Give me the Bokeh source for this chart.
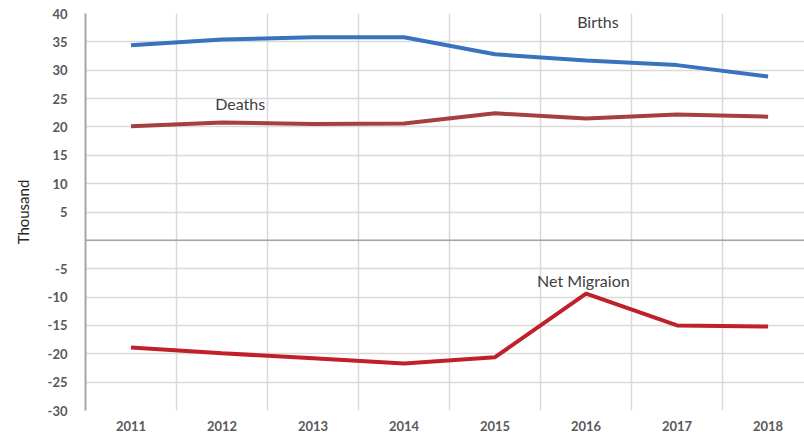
from bokeh.plotting import figure
from bokeh.models import Range1d, FixedTicker, Span, Label, Title
from bokeh.embed import file_html
from bokeh.resources import INLINE

years = ["2011", "2012", "2013", "2014", "2015", "2016", "2017", "2018"]
births = [34.4, 35.4, 35.8, 35.8, 32.8, 31.7, 30.9, 28.9]
deaths = [20.1, 20.8, 20.5, 20.6, 22.4, 21.5, 22.2, 21.8]
net_migration = [-18.9, -19.9, -20.8, -21.7, -20.6, -9.4, -15.0, -15.2]
y_ticks = [-30, -25, -20, -15, -10, -5, 5, 10, 15, 20, 25, 30, 35, 40]

xs = list(range(len(years)))
FONT = "Lato"

p = figure(width=804, height=438, x_range=Range1d(-0.5, 7.4), y_range=Range1d(-30, 40),
           output_backend="svg", toolbar_location=None,
           min_border_left=85, min_border_right=0, min_border_top=13, min_border_bottom=28)
p.outline_line_color = None
p.background_fill_color = "white"

# grids
p.xgrid.ticker = FixedTicker(ticks=[i - 0.5 for i in range(len(years) + 1)])
p.ygrid.ticker = FixedTicker(ticks=list(range(-30, 41, 5)))
for g in (p.xgrid, p.ygrid):
    g.grid_line_color = "#d9d9d9"
    g.grid_line_width = 1.5

# x axis
p.xaxis.ticker = FixedTicker(ticks=xs)
p.xaxis.major_label_overrides = {i: y for i, y in enumerate(years)}
p.xaxis.axis_line_color = None
p.xaxis.major_tick_line_color = None
p.xaxis.minor_tick_line_color = None
p.xaxis.major_tick_out = 0
p.xaxis.major_label_standoff = 10
p.xaxis.major_label_text_font = FONT
p.xaxis.major_label_text_font_style = "bold"
p.xaxis.major_label_text_font_size = "13px"
p.xaxis.major_label_text_color = "#595959"

# y axis
p.yaxis.ticker = FixedTicker(ticks=y_ticks)
p.yaxis.major_label_overrides = {t: str(t) for t in y_ticks}
p.yaxis.axis_line_color = "#a6a6a6"
p.yaxis.axis_line_width = 2
p.yaxis.major_tick_line_color = None
p.yaxis.minor_tick_line_color = None
p.yaxis.major_label_standoff = 12
p.yaxis.major_label_text_font = FONT
p.yaxis.major_label_text_font_style = "bold"
p.yaxis.major_label_text_font_size = "13px"
p.yaxis.major_label_text_color = "#595959"

# axis title
p.add_layout(Title(text="Thousand", align="center", offset=13, standoff=22, vertical_align="top",
                   text_font=FONT, text_font_size="15px", text_font_style="normal",
                   text_color="#262626"), "left")

# zero line
p.add_layout(Span(location=0, dimension="width", line_color="#a6a6a6", line_width=1.5))

# series
p.line(xs, births, line_color="#3a72bf", line_width=4)
p.line(xs, deaths, line_color="#a5403f", line_width=4)
p.line(xs, net_migration, line_color="#c0202a", line_width=4)

# series labels
for txt, x, y in [("Births", 5.13, 38.6), ("Deaths", 1.2, 24.2), ("Net Migraion", 4.97, -7.05)]:
    p.add_layout(Label(x=x, y=y, text=txt, text_align="center", text_baseline="middle",
                       text_font=FONT, text_font_size="16px", text_color="#404040"))

open("out.html", "w").write(file_html(p, INLINE))
